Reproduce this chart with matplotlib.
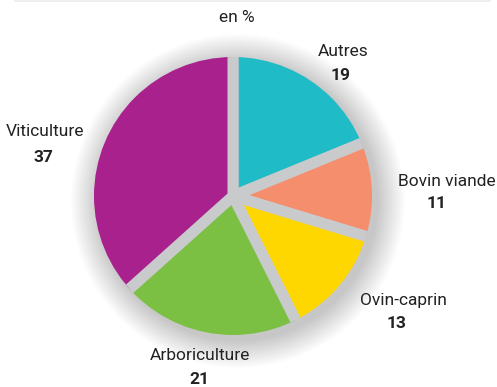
import matplotlib
matplotlib.use("Agg")
import matplotlib.pyplot as plt
from matplotlib.patches import Circle
from matplotlib.lines import Line2D

plt.rcParams['font.family'] = ['Roboto', 'DejaVu Sans']

categories = ["Autres", "Bovin viande", "Ovin-caprin", "Arboriculture", "Viticulture"]
values = [19, 11, 13, 21, 37]
colors = ["#1fbbc6", "#f58e6c", "#ffd700", "#7bc043", "#a8218d"]
title = "en %"

W, H = 497, 387
fig = plt.figure(figsize=(W / 100, H / 100), dpi=100)
ax = fig.add_axes([0, 0, 1, 1])

def Y(y):
    return H - y

cx, cy = 233, Y(196)
R = 139
gap_px = 11
gray = "#c9cacc"

# soft shadow
for k in range(28):
    ax.add_patch(Circle((cx + 5, cy - 5), R + 28 - k, facecolor="#000000",
                        alpha=0.006, edgecolor='none', zorder=0))

wedges, _ = ax.pie(values, colors=colors, startangle=90, counterclock=False,
                   center=(cx, cy), radius=R + gap_px / 2 + 1,
                   wedgeprops=dict(edgecolor=gray, linewidth=gap_px * 72 / 100))
clip = Circle((cx, cy), R, transform=ax.transData)
for w in wedges:
    w.set_clip_on(True)
    w.set_clip_path(clip)
    w.set_zorder(2)
ax.set_xlim(0, W)
ax.set_ylim(0, H)
ax.set_aspect('equal')
ax.axis('off')

txt = "#222222"
fs = 12.5
ax.text(237, Y(17), title, ha='center', va='center', fontsize=fs, color=txt)

label_pos = [(343, 51), (447, 182), (403, 301), (200, 355), (45, 131)]
value_pos = [(341, 75), (437, 204), (397, 323), (199, 380), (43, 158)]
for cat, v, (lx, ly), (vx, vy) in zip(categories, values, label_pos, value_pos):
    ax.text(lx, Y(ly), cat, ha='center', va='center', fontsize=fs, color=txt)
    ax.text(vx, Y(vy), str(v), ha='center', va='center', fontsize=fs,
            fontweight='bold', color=txt)

fig.add_artist(Line2D([15 / W, 490 / W], [1 - 0.8 / H, 1 - 0.8 / H],
                      color="#ececec", linewidth=1.2))

fig.savefig("out.png", dpi=100)
